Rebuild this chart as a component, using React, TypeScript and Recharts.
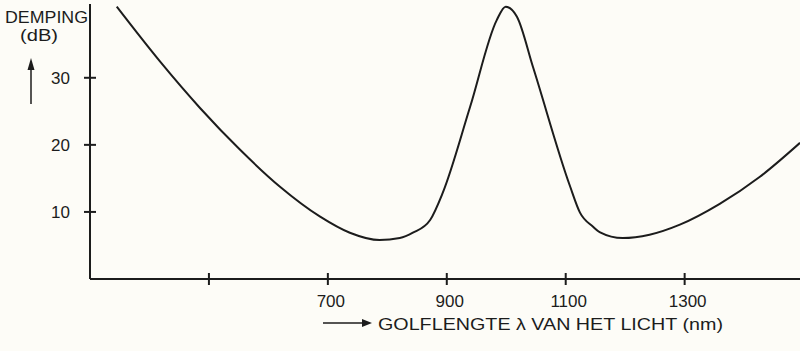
import { LineChart, Line, XAxis, YAxis } from 'recharts'

// wavelength (nm) and attenuation (dB)
const wavelengths = [345, 418, 485, 552, 619, 687, 737, 787, 821, 843, 872, 893, 939, 984, 999, 1018, 1045, 1107, 1124, 1146, 1157, 1196, 1241, 1292, 1359, 1426, 1494]
const dempingDb = [40.6, 32.4, 25.5, 19.3, 13.8, 9.3, 6.9, 5.8, 6.1, 6.9, 8.8, 12.8, 25.6, 38.6, 40.6, 39.1, 31.6, 13.9, 9.9, 7.8, 7.0, 6.1, 6.6, 8.1, 11.2, 15.2, 20.3]

const xTicks = [500, 700, 900, 1100, 1300]
const xTickLabels = ['', '700', '900', '1100', '1300']
const yTicks = [10, 20, 30]

const data = wavelengths.map((nm, i) => ({ nm, db: dempingDb[i] }))

const ink = '#1c1c1c'
const font = '"Liberation Sans", Arial, sans-serif'
const axisX = 90
const axisY = 279

function XTick({ x, payload }: any) {
  const idx = xTicks.indexOf(payload.value)
  return (
    <g>
      <line x1={x} x2={x} y1={axisY - 6} y2={axisY + 6} stroke={ink} strokeWidth={2} />
      <text x={x + 3} y={axisY + 28} textAnchor="middle" fill={ink} fontSize={17} fontFamily={font}>
        {xTickLabels[idx]}
      </text>
    </g>
  )
}

function YTick({ y, payload }: any) {
  return (
    <g>
      <line x1={axisX - 6} x2={axisX + 6} y1={y} y2={y} stroke={ink} strokeWidth={2} />
      <text x={axisX - 20} y={y + 6} textAnchor="end" fill={ink} fontSize={17} fontFamily={font}>
        {payload.value}
      </text>
    </g>
  )
}

function XTitle() {
  return (
    <g>
      <line x1={323} x2={364} y1={323} y2={323} stroke={ink} strokeWidth={1.5} />
      <path d="M362,319 L372,323 L362,327 Z" fill={ink} />
      <text x={378} y={330} fill={ink} fontSize={17} fontFamily={font} textLength={345} lengthAdjust="spacingAndGlyphs">
        GOLFLENGTE λ VAN HET LICHT (nm)
      </text>
    </g>
  )
}

function YTitle() {
  return (
    <g>
      <text x={5} y={23} fill={ink} fontSize={16} fontFamily={font} textLength={83} lengthAdjust="spacingAndGlyphs">
        DEMPING
      </text>
      <text x={20} y={41} fill={ink} fontSize={16} fontFamily={font} textLength={38} lengthAdjust="spacingAndGlyphs">
        (dB)
      </text>
      <line x1={31} x2={31} y1={104} y2={68} stroke={ink} strokeWidth={1.5} />
      <path d="M27.5,70 L31,58 L34.5,70 Z" fill={ink} />
    </g>
  )
}

export default function App() {
  return (
    <div style={{ position: 'absolute', left: 0, top: 0, width: 800, height: 351, background: '#fdfcf7' }}>
      <LineChart width={800} height={351} data={data} margin={{ top: 4, right: 0, bottom: 0, left: 0 }}>
        <XAxis
          dataKey="nm"
          type="number"
          domain={[300, 1493]}
          ticks={xTicks}
          tickSize={0}
          tickMargin={0}
          tickLine={false}
          height={72}
          axisLine={{ stroke: ink, strokeWidth: 2 }}
          tick={<XTick />}
          label={<XTitle />}
        />
        <YAxis
          type="number"
          domain={[0, 41]}
          ticks={yTicks}
          width={90}
          tickSize={0}
          tickMargin={0}
          tickLine={false}
          axisLine={{ stroke: ink, strokeWidth: 2 }}
          tick={<YTick />}
          label={<YTitle />}
        />
        <Line
          dataKey="db"
          type="monotone"
          stroke={ink}
          strokeWidth={2}
          dot={false}
          isAnimationActive={false}
        />
      </LineChart>
    </div>
  )
}
